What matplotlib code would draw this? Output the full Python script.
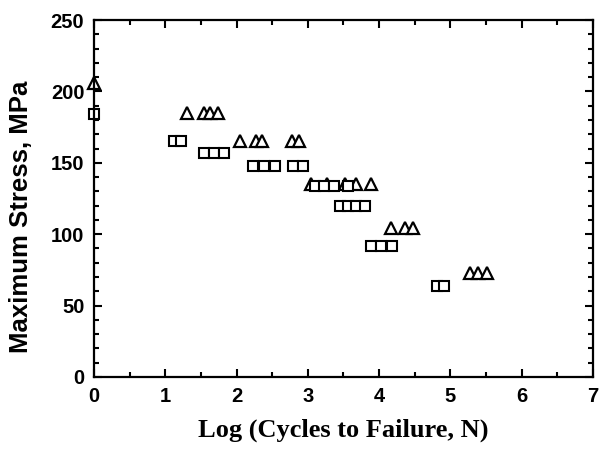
import matplotlib
matplotlib.use("Agg")
import matplotlib.pyplot as plt
from matplotlib.ticker import MultipleLocator

# Square series (log N, stress MPa)
sq_logn = [0.0, 1.12, 1.22, 1.54, 1.68, 1.82, 2.23, 2.38, 2.54, 2.79, 2.93,
           3.1, 3.23, 3.36, 3.56, 3.45, 3.57, 3.68, 3.8, 3.88, 4.03, 4.18,
           4.81, 4.91]
sq_stress = [184, 165, 165, 157, 157, 157, 148, 148, 148, 148, 148,
             134, 134, 134, 134, 120, 120, 120, 120, 92, 92, 92,
             64, 64]

# Triangle series
tri_logn = [0.0, 1.3, 1.55, 1.63, 1.74, 2.05, 2.27, 2.35, 2.78, 2.87,
            3.05, 3.27, 3.52, 3.68, 3.88, 4.17, 4.36, 4.47, 5.27, 5.39, 5.52]
tri_stress = [206, 185, 185, 185, 185, 165, 165, 165, 165, 165,
              135, 135, 135, 135, 135, 104, 104, 104, 73, 73, 73]

fig = plt.figure(figsize=(6.08, 4.53), dpi=100)
ax = fig.add_axes([0.1546, 0.1678, 0.8207, 0.788])

ax.plot(tri_logn, tri_stress, linestyle="none", marker="^", markersize=9,
        markerfacecolor="white", markeredgecolor="black", markeredgewidth=1.6,
        clip_on=False)
ax.plot(sq_logn, sq_stress, linestyle="none", marker="s", markersize=7.5,
        markerfacecolor="white", markeredgecolor="black", markeredgewidth=1.5,
        clip_on=False)

ax.set_xlim(0, 7)
ax.set_ylim(0, 250)
ax.xaxis.set_major_locator(MultipleLocator(1))
ax.xaxis.set_minor_locator(MultipleLocator(0.5))
ax.yaxis.set_major_locator(MultipleLocator(50))
ax.yaxis.set_minor_locator(MultipleLocator(10))

ax.tick_params(which="both", direction="in", top=True, right=True, width=1.5)
ax.tick_params(which="major", length=6, pad=7)
ax.tick_params(which="minor", length=3.5)
for s in ax.spines.values():
    s.set_linewidth(1.6)

for lab in ax.get_xticklabels() + ax.get_yticklabels():
    lab.set_fontfamily("Liberation Sans")
    lab.set_fontweight("bold")
    lab.set_fontsize(14.5)

ax.set_ylabel("Maximum Stress, MPa", fontfamily="Liberation Sans",
              fontweight="bold", fontsize=18.5)
# label sits a bit below the axis centre in the original
ax.yaxis.set_label_coords(-0.122, 0.45)
ax.set_xlabel("Log (Cycles to Failure, N)", fontfamily="Liberation Serif",
              fontweight="bold", fontsize=19, labelpad=9)

fig.savefig("out.png", dpi=100)
